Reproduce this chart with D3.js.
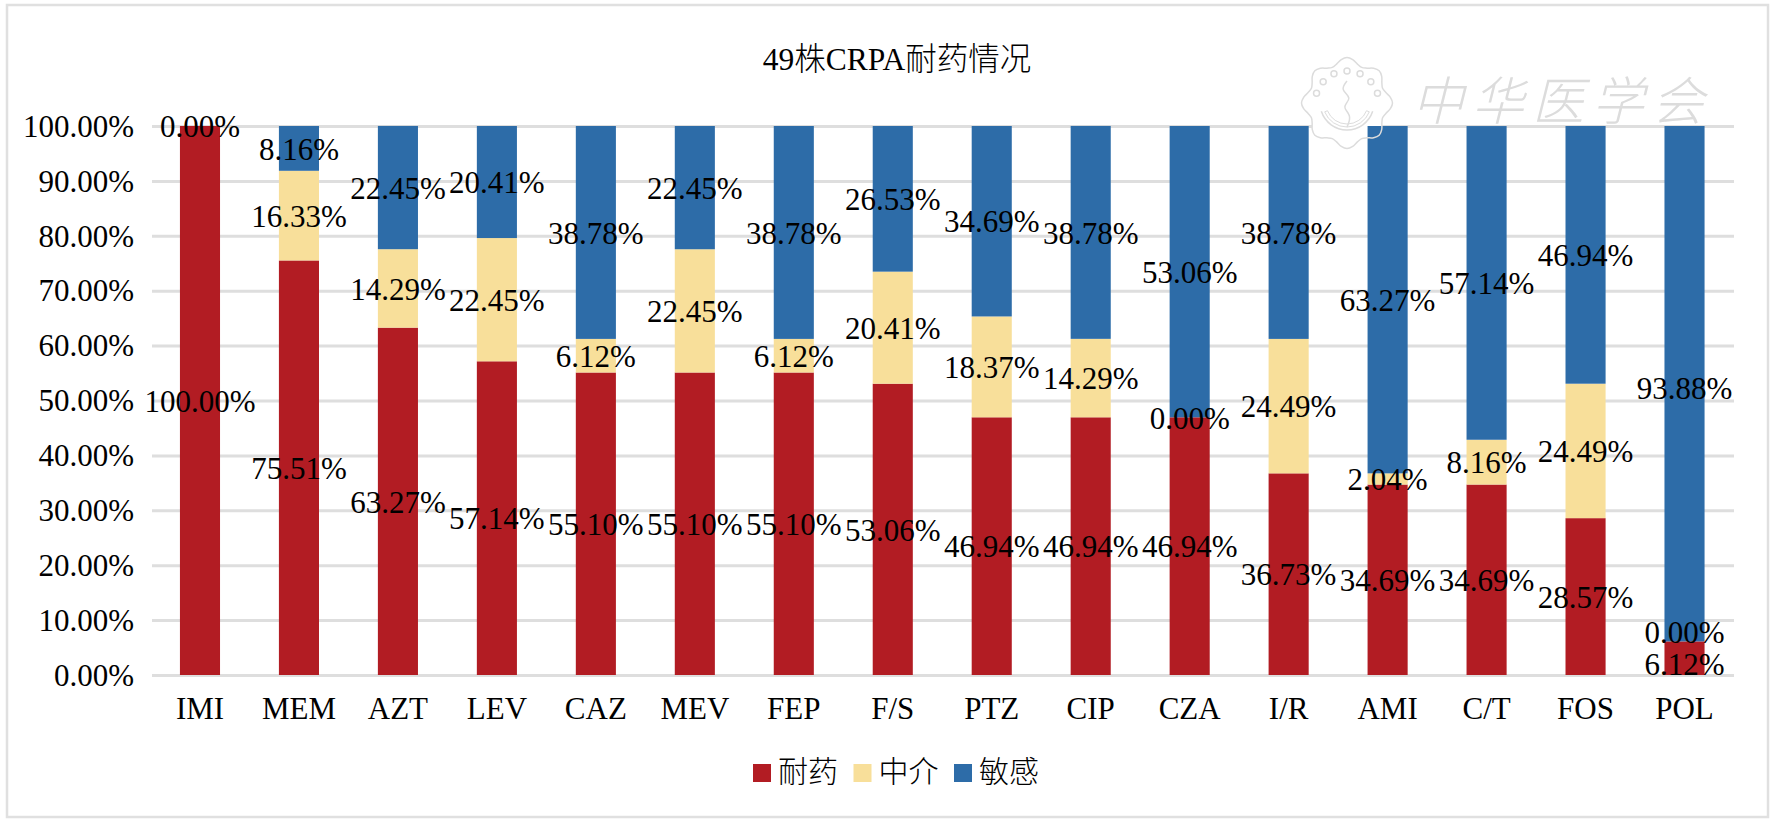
<!DOCTYPE html>
<html><head><meta charset="utf-8">
<script src="https://cdn.jsdelivr.net/npm/d3@7/dist/d3.min.js"></script>
<style>html,body{margin:0;background:#fff}svg{display:block}text{font-family:"Liberation Serif","Noto Sans CJK SC",serif;fill:#000}</style>
</head><body><svg id="c" width="1772" height="824"></svg>
<script>
const categories=["IMI","MEM","AZT","LEV","CAZ","MEV","FEP","F/S","PTZ","CIP","CZA","I/R","AMI","C/T","FOS","POL"];
const resistant=[100,75.51,63.27,57.14,55.10,55.10,55.10,53.06,46.94,46.94,46.94,36.73,34.69,34.69,28.57,6.12];
const intermediate=[0,16.33,14.29,22.45,6.12,22.45,6.12,20.41,18.37,14.29,0,24.49,2.04,8.16,24.49,0];
const sensitive=[0,8.16,22.45,20.41,38.78,22.45,38.78,26.53,34.69,38.78,53.06,38.78,63.27,57.14,46.94,93.88];
const seriesNames=["耐药","中介","敏感"];
const seriesColors=["#b21c23","#f8df9a","#2d6ca8"];
const yTicks=[0,10,20,30,40,50,60,70,80,90,100];
const titleText="49株CRPA耐药情况";
const watermarkText="中华医学会";

const svg=d3.select("#c");
svg.append("rect").attr("x",7).attr("y",5).attr("width",1761).attr("height",812).attr("fill","#fff").attr("stroke","#e0e0e0").attr("stroke-width",2.5);
const x=d3.scaleBand().domain(categories).range([150.5,1734]).paddingInner(0.595).paddingOuter(0.2975);
const y=d3.scaleLinear().domain([0,100]).range([675,126]);
const table=categories.map((c,i)=>({c,r:resistant[i],m:intermediate[i],s:sensitive[i]}));
const stack=d3.stack().keys(["r","m","s"])(table);

// gridlines and axes
const gy=svg.append("g").attr("transform","translate(152,0)").call(d3.axisLeft(y).tickValues(yTicks).tickFormat(d=>d.toFixed(2)+"%").tickSize(-1582).tickPadding(18));
gy.select(".domain").remove();
gy.selectAll("line").attr("stroke","#dedede").attr("stroke-width",3);
gy.selectAll("text").attr("font-size",31).attr("dy","0.33em");
const gx=svg.append("g").attr("transform","translate(0,675)").call(d3.axisBottom(x).tickSize(0).tickPadding(22));
gx.select(".domain").remove();
gx.selectAll("text").attr("font-size",31).attr("dy","0.71em");

// seal masks the gridline behind it
const sealCx=1347,sealCy=103;
const scallop=d3.lineRadial().curve(d3.curveCardinalClosed).angle(a=>a).radius(a=>42+3.5*Math.cos(8*a));
const sealPath=scallop(d3.range(0,2*Math.PI,Math.PI/24));
svg.append("path").attr("transform",`translate(${sealCx},${sealCy})`).attr("d",sealPath).attr("fill","#fff");

// bars
svg.append("g").selectAll("g").data(stack).join("g").attr("fill",(d,i)=>seriesColors[i])
 .selectAll("rect").data(d=>d).join("rect")
 .attr("x",d=>x(d.data.c)).attr("width",x.bandwidth())
 .attr("y",d=>y(d[1])).attr("height",d=>y(d[0])-y(d[1]));

// watermark
const wm=svg.append("g").attr("transform",`translate(${sealCx},${sealCy})`).attr("fill","none").attr("stroke","#dcdcdc").attr("stroke-width",1.5);
wm.append("path").attr("d",sealPath);
wm.append("path").attr("d",d3.arc()({innerRadius:27,outerRadius:27,startAngle:Math.PI*0.6,endAngle:Math.PI*1.4}));
wm.append("path").attr("d",d3.arc()({innerRadius:21,outerRadius:24,startAngle:Math.PI*0.62,endAngle:Math.PI*1.38})).attr("stroke-width",1);
wm.append("path").attr("d",d3.line().curve(d3.curveBasis)([[0,-22],[-7,-13],[6,-5],[-6,4],[5,12],[0,24]]));
wm.selectAll("circle").data(d3.range(-3,4)).join("circle").attr("r",3)
 .attr("cx",i=>32*Math.sin(i*0.42)).attr("cy",i=>-32*Math.cos(i*0.42));
svg.append("text").attr("x",1412).attr("y",120).attr("font-size",52).attr("font-weight",300).attr("letter-spacing",8)
 .style("fill","#dcdcdc").style("font-style","italic").text(watermarkText);

// data labels at segment centres
const seen=new Set();
const labels=[];
stack.forEach(s=>s.forEach(d=>{const v=d[1]-d[0],k=d.data.c+"|"+d[0]+"|"+v.toFixed(2);if(seen.has(k))return;seen.add(k);labels.push({c:d.data.c,v,mid:(d[0]+d[1])/2});}));
svg.append("g").selectAll("text").data(labels).join("text").attr("text-anchor","middle").attr("font-size",31)
 .attr("x",d=>x(d.c)+x.bandwidth()/2)
 .attr("y",d=>y(d.mid)+1+(d.c==="POL"&&d.mid<10?(d.v===0?-10:6):0)+(d.c==="POL"&&d.mid>10?4:0)).attr("dy","0.33em")
 .text(d=>d.v.toFixed(2)+"%");

// title
svg.append("text").attr("x",897).attr("y",70).attr("text-anchor","middle").attr("font-size",31.5).attr("font-weight",300).text(titleText);

// legend
const legendX=d3.scalePoint().domain(seriesNames).range([753,954]);
const lg=svg.append("g").selectAll("g").data(seriesNames).join("g").attr("transform",d=>`translate(${legendX(d)},773)`);
lg.append("rect").attr("x",0).attr("y",-9).attr("width",18).attr("height",18).attr("fill",(d,i)=>seriesColors[i]);
lg.append("text").attr("x",25).attr("y",-2).attr("dy","0.36em").attr("font-size",30).attr("font-weight",300).text(d=>d);
</script></body></html>
